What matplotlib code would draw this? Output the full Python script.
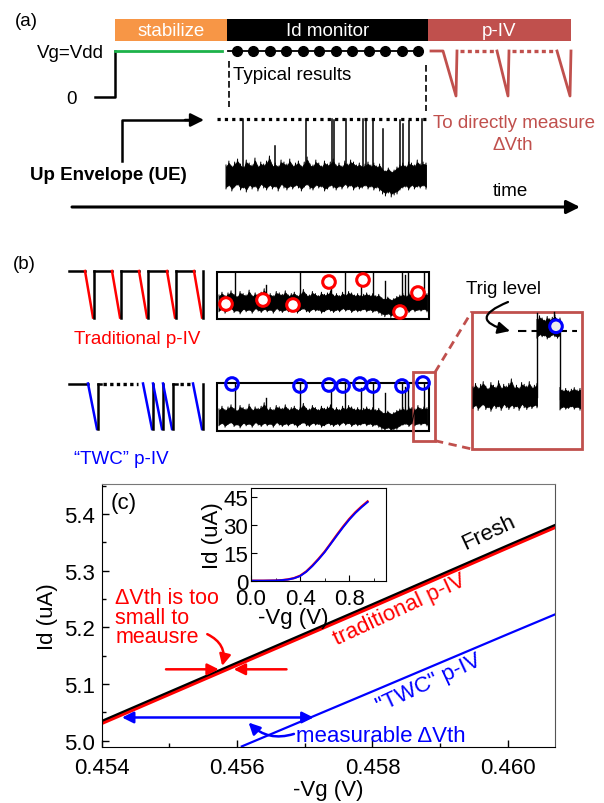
import matplotlib
matplotlib.use('Agg')
import matplotlib.pyplot as plt
from matplotlib.patches import Rectangle, Circle, FancyArrowPatch
from matplotlib.ticker import MultipleLocator, FormatStrFormatter
import numpy as np

plt.rcParams['font.family'] = ['Liberation Sans', 'DejaVu Sans']

# ---------------- panel (c) data ----------------
vg_fresh = [0.4540, 0.4560, 0.4580, 0.4600, 0.4607]
id_fresh = [5.034, 5.137, 5.240, 5.344, 5.380]
vg_trad = [0.4540, 0.4560, 0.4580, 0.4600, 0.4607]
id_trad = [5.030, 5.133, 5.236, 5.340, 5.376]
vg_twc = [0.45607, 0.4580, 0.4600, 0.4607]
id_twc = [4.990, 5.087, 5.188, 5.223]

# inset: full Id-Vg curve
vg_in = [0.0, 0.1, 0.2, 0.25, 0.3, 0.35, 0.4, 0.45, 0.5, 0.55, 0.6, 0.65, 0.7, 0.75, 0.8, 0.85, 0.9, 0.95]
id_in_trad = [0, 0, 0.1, 0.3, 0.7, 1.4, 2.7, 5.0, 8.2, 11.8, 15.7, 20.2, 24.8, 29.2, 33.3, 36.9, 40.0, 42.8]
id_in_twc = [0, 0, 0.1, 0.3, 0.6, 1.3, 2.5, 4.8, 7.9, 11.5, 15.4, 19.9, 24.4, 28.8, 32.9, 36.5, 39.6, 42.4]

# ---------------- schematic trace (hand-read noise envelope, px) ----------------
noise_up = [10, 14, 9, 13, 16, 11, 8, 15, 12, 10, 17, 9, 13, 11, 14, 19, 10, 12, 9, 15,
            13, 11, 16, 10, 12, 14, 9, 13, 18, 11, 10, 15, 12, 9, 14, 11, 13, 16, 10, 12,
            9, 14, 11, 15, 13, 10, 12, 9, 11, 13, 10, 12, 9, 11, 6, 4, 7, 3, 5, 8,
            10, 12, 9, 13, 12, 10, 15, 11, 13, 12]
noise_low = [14, 11, 16, 12, 10, 15, 13, 17, 11, 14, 12, 16, 10, 13, 15, 11, 14, 12, 16, 10,
             13, 15, 12, 14, 11, 13, 16, 12, 10, 14, 15, 11, 13, 12, 16, 14, 11, 13, 15, 12,
             14, 10, 13, 11, 15, 12, 14, 13, 11, 14, 12, 15, 13, 16, 19, 21, 18, 22, 20, 19,
             15, 13, 12, 15, 11, 14, 12, 13, 11, 14]
spike_a_x = [243, 275, 306, 332, 334, 346, 363, 366, 373, 383, 400, 403, 409, 422]
spike_a_top = [120, 147, 120, 120, 121, 120, 120, 121, 120, 130, 121, 125, 122, 120]

spike_b_x = [235, 266, 300, 331, 345, 361, 373, 385, 402, 405, 408, 424]
spike_b_frac = [1.0, 0.55, 1.0, 0.8, 1.0, 0.85, 1.0, 0.7, 1.0, 0.9, 1.0, 1.0]

red_circ_x = [226, 263, 293, 329, 363, 400, 418]
red_circ_y = [305, 301, 306, 283, 281, 313, 294]
blue_circ_x = [232, 300, 329, 343, 360, 373, 402, 423]
blue_circ_y = [385, 387, 386, 387, 385, 387, 387, 384]

dot_x = np.linspace(237, 418, 12)

SRED = '#c0504d'
ORANGE = '#f79646'
GREEN = '#1db24a'

fig = plt.figure(figsize=(6.04, 8.04), dpi=100)

# overlay axes in pixel coordinates for the schematics
ax0 = fig.add_axes([0, 0, 1, 1])
ax0.set_xlim(0, 604)
ax0.set_ylim(804, 0)
ax0.axis('off')


def band(x0, x1, yc, scale, i0=0, i1=None):
    up = np.array(noise_up[i0:i1]) * scale
    lo = np.array(noise_low[i0:i1]) * scale
    xs = np.linspace(x0, x1, len(up))
    ax0.fill_between(xs, yc - 0.85 * up, yc + 0.85 * lo, color='k', lw=0.6)
    zig_x = np.repeat(xs, 2)
    zig_y = np.ravel(np.column_stack([yc - up, yc + lo]))
    ax0.plot(zig_x, zig_y, color='k', lw=0.7)


# ---------- (a) ----------
ax0.text(15, 22, '(a)', fontsize=13.5, va='center', ha='left')
ax0.add_patch(Rectangle((115, 20), 112, 21.5, color=ORANGE, lw=0))
ax0.add_patch(Rectangle((227, 20), 201, 21.5, color='k', lw=0))
ax0.add_patch(Rectangle((428, 20), 143, 21.5, color=SRED, lw=0))
ax0.text(171, 31, 'stabilize', color='w', fontsize=13.5, ha='center', va='center')
ax0.text(327.5, 31, 'Id monitor', color='w', fontsize=13.5, ha='center', va='center')
ax0.text(499.5, 31, 'p-IV', color='w', fontsize=13.5, ha='center', va='center')

ax0.text(104, 53, 'Vg=Vdd', fontsize=13.5, ha='right', va='center')
ax0.text(77, 99, '0', fontsize=13.5, ha='right', va='center')
ax0.plot([95, 115, 115], [98, 98, 52], color='k', lw=1.8)
ax0.plot([115, 222], [52, 52], color=GREEN, lw=2)
ax0.plot([228, 418], [52, 52], color='k', lw=1.3)
ax0.plot(dot_x, [52] * len(dot_x), 'o', color='k', ms=7)
ax0.plot([229, 229], [62, 108], color='k', lw=1.2, ls=(0, (4, 2)))
ax0.plot([426, 426], [66, 112], color='k', lw=1.2, ls=(0, (4, 2)))
ax0.text(233, 75, 'Typical results', fontsize=13.5, ha='left', va='center')

ax0.plot([217, 428], [120, 120], color='k', lw=2.3, ls=(0, (1, 1.3)))
ax0.plot([122, 122, 190], [162, 121, 121], color='k', lw=1.8)
ax0.annotate('', xy=(204, 121), xytext=(185, 121),
             arrowprops=dict(arrowstyle='-|>', lw=1.8, color='k', mutation_scale=20,
                             shrinkA=0, shrinkB=0))
ax0.text(30, 175, 'Up Envelope (UE)', fontsize=13.5, fontweight='bold', ha='left', va='center')

band(226, 426, 176, 1.0)
for sx, st in zip(spike_a_x, spike_a_top):
    ax0.plot([sx, sx], [172, st], color='k', lw=1.1)

ax0.annotate('', xy=(580, 208), xytext=(72, 208),
             arrowprops=dict(arrowstyle='-|>', lw=2.2, color='k', mutation_scale=20,
                             shrinkA=0, shrinkB=0))
ax0.text(510, 192, 'time', fontsize=13.5, ha='center', va='center')

ax0.plot([431, 443, 456, 457], [52, 52, 97, 52], color=SRED, lw=2)
ax0.plot([497, 508, 509], [52, 97, 52], color=SRED, lw=2)
ax0.plot([557, 570, 571], [52, 97, 52], color=SRED, lw=2)
ax0.plot([460, 496], [52, 52], color=SRED, lw=2.4, ls=(0, (1.2, 1)))
ax0.plot([512, 556], [52, 52], color=SRED, lw=2.4, ls=(0, (1.2, 1)))
ax0.text(514, 124, 'To directly measure', color=SRED, fontsize=13.5, ha='center', va='center')
ax0.text(513, 146, '\u0394Vth', color=SRED, fontsize=13.5, ha='center', va='center')

# ---------- (b) ----------
ax0.text(13, 265, '(b)', fontsize=13.5, va='center', ha='left')

# traditional p-IV pulses
ytop, ybot = 272, 318.5
prev = 69
for ds in [85, 112, 139, 167, 194]:
    ax0.plot([prev, ds], [ytop, ytop], color='k', lw=1.8)
    ax0.plot([ds, ds + 8], [ytop, ybot], color='r', lw=1.8)
    ax0.plot([ds + 8.5, ds + 8.5], [ybot, ytop], color='k', lw=1.8)
    prev = ds + 8.5
ax0.text(74, 340, 'Traditional p-IV', color='r', fontsize=13.5, ha='left', va='center')

# TWC p-IV pulses
ytop, ybot = 384.5, 430
ax0.plot([69, 88], [ytop, ytop], color='k', lw=1.8)
for ds in [88, 143, 153, 163, 193]:
    ax0.plot([ds, ds + 9], [ytop, ybot], color='b', lw=1.8)
    ax0.plot([ds + 9.5, ds + 9.5], [ybot, ytop], color='k', lw=1.8)
ax0.plot([97.5, 101], [ytop, ytop], color='k', lw=1.8)
ax0.plot([103, 138], [ytop, ytop], color='k', lw=2.4, ls=(0, (1, 1)))
ax0.plot([172.5, 177], [ytop, ytop], color='k', lw=1.8)
ax0.plot([180, 192], [ytop, ytop], color='k', lw=2.4, ls=(0, (1, 1)))
ax0.text(74, 460, '\u201cTWC\u201d p-IV', color='b', fontsize=13.5, ha='left', va='center')

# monitored traces
for (btop, yc) in [(272.7, 303), (384.3, 417)]:
    ax0.add_patch(Rectangle((217, btop), 212, 47.3, fill=False, ec='k', lw=1.5))
    band(219, 427, yc, 0.7)
    for sx, fr in zip(spike_b_x, spike_b_frac):
        ax0.plot([sx, sx], [yc, yc - fr * (yc - btop)], color='k', lw=1.0)

for cx, cy in zip(red_circ_x, red_circ_y):
    ax0.add_patch(Circle((cx, cy), 6.3, fc='w', ec='r', lw=2.2, zorder=5))
for cx, cy in zip(blue_circ_x, blue_circ_y):
    ax0.add_patch(Circle((cx, cy), 6.3, fc='none', ec='b', lw=2.2, zorder=5))

# zoom-in window
ax0.add_patch(Rectangle((413.3, 373.3), 21.7, 68.4, fill=False, ec=SRED, lw=2))
ax0.add_patch(Rectangle((471.7, 312.7), 110, 137.3, fill=False, ec=SRED, lw=2))
ax0.plot([435, 471.7], [373.3, 312.7], color=SRED, lw=2, ls=(0, (3, 2)))
ax0.plot([435, 471.7], [441.7, 450], color=SRED, lw=2, ls=(0, (3, 2)))

ax0.plot([537, 537], [398, 314], color='k', lw=1.0)
ax0.plot([560, 560], [328, 400], color='k', lw=1.0)
band(473, 537, 397, 0.9, 0, 26)
band(537, 560, 328, 0.75, 30, 40)
band(560, 580, 399, 0.8, 44, 52)
ax0.plot([554, 554], [328, 313], color='k', lw=1.0)
ax0.plot([518, 577], [331.7, 331.7], color='k', lw=1.5, ls=(0, (4, 2.5)))
ax0.add_patch(Circle((556, 327.3), 6.3, fc='#ececec', ec='b', lw=2.2, zorder=5))
ax0.text(504, 290, 'Trig level', fontsize=13.5, ha='center', va='center')
ax0.add_patch(FancyArrowPatch((508, 303), (510, 332), connectionstyle='arc3,rad=1.5',
                              arrowstyle='-|>', mutation_scale=18, lw=1.6, color='k',
                              shrinkA=0, shrinkB=0))

# ---------- (c) main ----------
FS = 16
ax = fig.add_axes([0.1684, 0.0697, 0.7508, 0.3271])
ax.plot(vg_fresh, id_fresh, color='k', lw=2.2)
ax.plot(vg_trad, id_trad, color='r', lw=2.0)
ax.plot(vg_twc, id_twc, color='b', lw=1.6)
ax.set_xlim(0.454, 0.4607)
ax.set_ylim(4.989, 5.453)
ax.xaxis.set_major_locator(MultipleLocator(0.002))
ax.xaxis.set_minor_locator(MultipleLocator(0.001))
ax.yaxis.set_major_locator(MultipleLocator(0.1))
ax.yaxis.set_minor_locator(MultipleLocator(0.05))
ax.xaxis.set_major_formatter(FormatStrFormatter('%.3f'))
ax.yaxis.set_major_formatter(FormatStrFormatter('%.1f'))
ax.tick_params(which='both', direction='in', labelsize=FS, top=False, right=False)
ax.tick_params(which='major', length=5, width=1)
ax.tick_params(which='minor', length=3, width=1)
ax.tick_params(axis='x', pad=7)
ax.tick_params(axis='y', pad=5)
ax.spines['top'].set_color('#777777')
ax.spines['right'].set_color('#555555')
ax.set_xlabel('-Vg (V)', fontsize=FS, labelpad=1)
ax.set_ylabel('Id (uA)', fontsize=FS, labelpad=4)

ax.text(0.45433, 5.421, '(c)', fontsize=FS, ha='center', va='center')
ax.text(0.4542, 5.218, '\u0394Vth is too\nsmall to\nmeausre', color='r', fontsize=15.5,
        ha='left', va='center', linespacing=0.9)
ax.text(0.45971, 5.3675, 'Fresh', fontsize=FS, rotation=25, ha='center', va='center')
ax.text(0.45840, 5.232, 'traditional p-IV', color='r', fontsize=FS, rotation=25,
        ha='center', va='center')
ax.text(0.45883, 5.103, '"TWC" p-IV', color='b', fontsize=FS, rotation=25,
        ha='center', va='center')
ax.text(0.45687, 5.009, 'measurable \u0394Vth', color='b', fontsize=FS, ha='left', va='center')

arr = dict(arrowstyle='-|>', lw=1.8, mutation_scale=17, shrinkA=0, shrinkB=0)
ax.annotate('', xy=(0.45573, 5.126), xytext=(0.45495, 5.126), arrowprops=dict(arr, color='r'))
ax.annotate('', xy=(0.45595, 5.126), xytext=(0.45673, 5.126), arrowprops=dict(arr, color='r'))
ax.annotate('', xy=(0.45578, 5.132), xytext=(0.45556, 5.188),
            arrowprops=dict(arr, color='r', connectionstyle='arc3,rad=-0.4'))
ax.annotate('', xy=(0.45713, 5.041), xytext=(0.4543, 5.041),
            arrowprops=dict(arr, arrowstyle='<|-|>', color='b'))
ax.annotate('', xy=(0.45617, 5.032), xytext=(0.45684, 5.012),
            arrowprops=dict(arr, color='b', connectionstyle='arc3,rad=-0.3'))

# ---------- (c) inset ----------
axi = fig.add_axes([0.4156, 0.2765, 0.2235, 0.1153])
axi.plot(vg_in, id_in_trad, color='r', lw=1.6)
axi.plot(vg_in, id_in_twc, color='b', lw=1.4)
axi.set_xlim(0, 1.1)
axi.set_ylim(0, 50)
axi.xaxis.set_major_locator(MultipleLocator(0.4))
axi.xaxis.set_minor_locator(MultipleLocator(0.2))
axi.yaxis.set_major_locator(MultipleLocator(15))
axi.xaxis.set_major_formatter(FormatStrFormatter('%.1f'))
axi.tick_params(which='both', direction='in', labelsize=FS)
axi.tick_params(axis='x', pad=5)
axi.tick_params(axis='y', pad=2)
axi.tick_params(which='major', length=4)
axi.tick_params(which='minor', length=2)
axi.set_xlabel('-Vg (V)', fontsize=FS)
axi.xaxis.set_label_coords(0.31, -0.28)
axi.set_ylabel('Id (uA)', fontsize=FS, labelpad=0)

fig.savefig('out.png', dpi=100)
